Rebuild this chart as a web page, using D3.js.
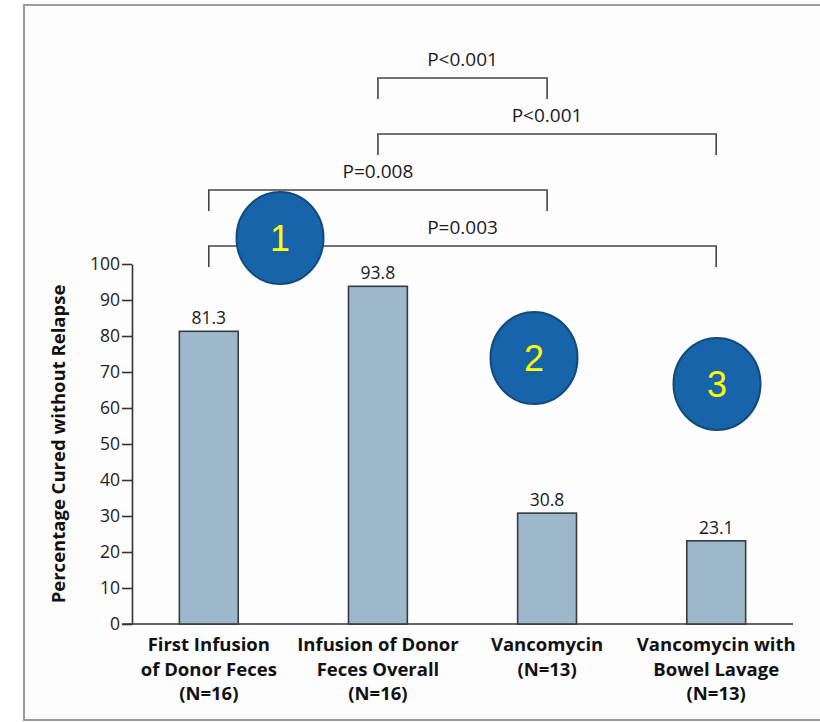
<!DOCTYPE html>
<html>
<head>
<meta charset="utf-8">
<script src="https://cdn.jsdelivr.net/npm/d3@7/dist/d3.min.js"></script>
<style>
  html, body { margin: 0; padding: 0; background: #ffffff; }
  svg { display: block; }
  text { font-family: "Open Sans", "DejaVu Sans", sans-serif; }
</style>
</head>
<body>
<svg id="chart" width="820" height="722"></svg>
<script>
// ---------- data ----------
const categories = [
  ["First Infusion", "of Donor Feces", "(N=16)"],
  ["Infusion of Donor", "Feces Overall", "(N=16)"],
  ["Vancomycin", "(N=13)"],
  ["Vancomycin with", "Bowel Lavage", "(N=13)"]
];
const values = [81.3, 93.8, 30.8, 23.1];
const valueLabels = ["81.3", "93.8", "30.8", "23.1"];
const yTicks = [0, 10, 20, 30, 40, 50, 60, 70, 80, 90, 100];
const yTitle = "Percentage Cured without Relapse";
const compFrom = [1, 1, 0, 0];
const compTo = [2, 3, 2, 3];
const compLabels = ["P<0.001", "P<0.001", "P=0.008", "P=0.003"];
const compLevels = [3, 2, 1, 0];
const badgeLabels = ["1", "2", "3"];

// ---------- layout ----------
const W = 820, H = 722;
const plot = { left: 132, right: 793, top: 264, bottom: 624 };
const bracketBase = 105, bracketStep = 56, bracketLeg = 21;
const badgeSpots = [[280, 238], [534, 358], [717, 384]];
const badgeR = [43.5, 46];

const svg = d3.select("#chart");

// frame
svg.append("rect")
  .attr("x", 24).attr("y", 5)
  .attr("width", W + 20).attr("height", 715)
  .attr("fill", "#fdfdfd")
  .attr("stroke", "#9a9a9a").attr("stroke-width", 2);

const x = d3.scaleBand()
  .domain(d3.range(values.length))
  .range([plot.left, plot.right])
  .paddingInner(0.652)
  .paddingOuter(0.28);

const y = d3.scaleLinear().domain([0, 100]).range([plot.bottom, plot.top]);

const cx = i => x(i) + x.bandwidth() / 2;

// y axis
const yAxis = svg.append("g")
  .attr("transform", `translate(${plot.left},0)`)
  .call(d3.axisLeft(y).tickValues(yTicks).tickSize(10).tickSizeOuter(0).tickPadding(2));
yAxis.select(".domain").attr("stroke", "#333").attr("stroke-width", 1.6);
yAxis.selectAll(".tick line").attr("stroke", "#333").attr("stroke-width", 1.6);
yAxis.selectAll(".tick text")
  .attr("fill", "#222")
  .style("font-size", "17.5px")
  .style("font-family", "'Open Sans', sans-serif");

// x axis baseline
svg.append("line")
  .attr("x1", plot.left - 10).attr("x2", plot.right)
  .attr("y1", y(0)).attr("y2", y(0))
  .attr("stroke", "#333").attr("stroke-width", 1.6);

// y title
svg.append("text")
  .attr("transform", `translate(65,${(plot.top + plot.bottom) / 2 + 0}) rotate(-90)`)
  .attr("text-anchor", "middle")
  .attr("fill", "#111")
  .style("font-size", "18.5px")
  .style("font-weight", "bold")
  .text(yTitle);

// bars
svg.append("g").selectAll("rect")
  .data(values)
  .join("rect")
  .attr("x", (d, i) => x(i))
  .attr("y", d => y(d))
  .attr("width", x.bandwidth())
  .attr("height", d => y(0) - y(d))
  .attr("fill", "#9db8ca")
  .attr("stroke", "#353b40")
  .attr("stroke-width", 1.6);

// value labels
svg.append("g").selectAll("text")
  .data(values)
  .join("text")
  .attr("x", (d, i) => cx(i))
  .attr("y", d => y(d) - 7)
  .attr("text-anchor", "middle")
  .attr("fill", "#1a1a1a")
  .style("font-size", "17.5px")
  .text((d, i) => valueLabels[i]);

// category labels
const catG = svg.append("g").selectAll("text")
  .data(categories)
  .join("text")
  .attr("x", (d, i) => cx(i))
  .attr("y", 651)
  .attr("text-anchor", "middle")
  .attr("fill", "#111")
  .style("font-size", "18.5px")
  .style("font-weight", "bold");
catG.each(function(lines, i) {
  d3.select(this).selectAll("tspan")
    .data(lines)
    .join("tspan")
    .attr("x", cx(i))
    .attr("dy", (l, k) => k === 0 ? 0 : 24.5)
    .text(l => l);
});

// comparison brackets
const bY = k => y(bracketBase) - k * bracketStep;
const brG = svg.append("g");
compLabels.forEach((lab, j) => {
  const x1 = cx(compFrom[j]), x2 = cx(compTo[j]);
  const yy = bY(compLevels[j]);
  brG.append("path")
    .attr("d", `M${x1},${yy + bracketLeg}V${yy}H${x2}V${yy + bracketLeg}`)
    .attr("fill", "none")
    .attr("stroke", "#444")
    .attr("stroke-width", 1.6);
  brG.append("text")
    .attr("x", (x1 + x2) / 2)
    .attr("y", yy - 12)
    .attr("text-anchor", "middle")
    .attr("fill", "#1a1a1a")
    .style("font-size", "19px")
    .text(lab);
});

// numbered badges
const bg = svg.append("g").selectAll("g")
  .data(badgeLabels)
  .join("g")
  .attr("transform", (d, i) => `translate(${badgeSpots[i][0]},${badgeSpots[i][1]})`);
bg.append("ellipse")
  .attr("rx", badgeR[0]).attr("ry", badgeR[1])
  .attr("fill", "#1764ab")
  .attr("stroke", "#124a7c")
  .attr("stroke-width", 2);
bg.append("text")
  .attr("text-anchor", "middle")
  .attr("dy", 13)
  .attr("fill", "#ffff00")
  .style("font-family", "'Liberation Sans', Arial, sans-serif")
  .style("font-size", "36px")
  .text(d => d);
</script>
</body>
</html>
